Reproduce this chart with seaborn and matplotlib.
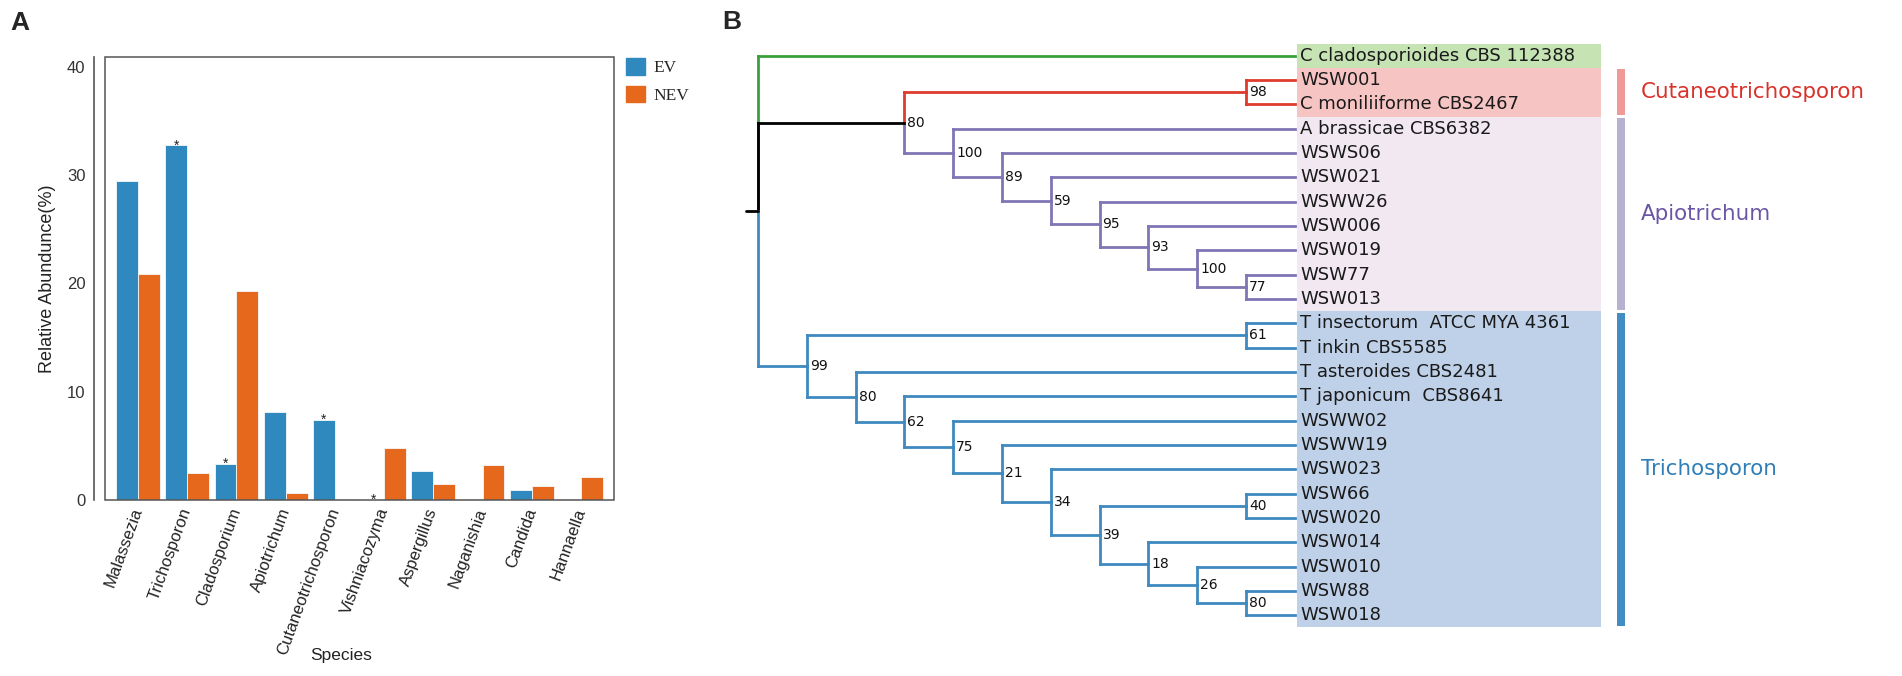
import matplotlib
matplotlib.use("Agg")
import matplotlib.pyplot as plt
import matplotlib.patches as mpatches
import seaborn as sns
import pandas as pd

# ---------------- data: panel A ----------------
species = ["Malassezia", "Trichosporon", "Cladosporium", "Apiotrichum",
           "Cutaneotrichosporon", "Vishniacozyma", "Aspergillus",
           "Naganishia", "Candida", "Hannaella"]
ev_values = [29.45, 32.75, 3.32, 8.12, 7.39, 0.03, 2.68, 0.06, 0.92, 0.12]
nev_values = [20.84, 2.52, 19.3, 0.67, 0.08, 4.83, 1.48, 3.23, 1.29, 2.1]
ev_significant = [False, True, True, False, True, True, False, False, False, False]
groups = ["EV", "NEV"]
y_ticks = [0, 10, 20, 30, 40]

# ---------------- data: panel B ----------------
leaf_names = ["C cladosporioides CBS 112388", "WSW001", "C moniliiforme CBS2467",
              "A brassicae CBS6382", "WSWS06", "WSW021", "WSWW26", "WSW006",
              "WSW019", "WSW77", "WSW013", "T insectorum  ATCC MYA 4361",
              "T inkin CBS5585", "T asteroides CBS2481", "T japonicum  CBS8641",
              "WSWW02", "WSWW19", "WSW023", "WSW66", "WSW020", "WSW014",
              "WSW010", "WSW88", "WSW018"]
clade_names = ["Cladosporium", "Cutaneotrichosporon", "Apiotrichum", "Trichosporon"]
clade_sizes = [1, 2, 8, 13]
clade_labeled = [False, True, True, True]
# tree: (support, depth, children); ints are leaf indices
tree = ("", 0, [0,
    ("80", 3, [("98", 10, [1, 2]),
               ("100", 4, [3, ("89", 5, [4, ("59", 6, [5, ("95", 7, [6,
                    ("93", 8, [7, ("100", 9, [8, ("77", 10, [9, 10])])])])])])])]),
    ("99", 1, [("61", 10, [11, 12]),
               ("80", 2, [13, ("62", 3, [14, ("75", 4, [15, ("21", 5, [16,
                    ("34", 6, [17, ("39", 7, [("40", 10, [18, 19]),
                        ("18", 8, [20, ("26", 9, [21, ("80", 10, [22, 23])])])])])])])])])])])
leaf_depth = 11

# ---------------- styles ----------------
C_EV = "#2F88BE"
C_NEV = "#E6681C"
branch_colors = {"Cladosporium": "#3AA03C", "Cutaneotrichosporon": "#DE3C2C",
                 "Apiotrichum": "#8076B6", "Trichosporon": "#3E8AC0"}
band_colors = {"Cladosporium": "#C6E3B4", "Cutaneotrichosporon": "#F7C4C4",
               "Apiotrichum": "#F1E8F1", "Trichosporon": "#BFD1E9"}
side_colors = {"Cutaneotrichosporon": "#F09A98", "Apiotrichum": "#B7B2D0",
               "Trichosporon": "#418CC3"}
label_colors = {"Cutaneotrichosporon": "#D8322A", "Apiotrichum": "#6B55A5",
                "Trichosporon": "#2F7EB8"}

sns.set_style("white")
plt.rcParams["font.family"] = ["Liberation Sans", "DejaVu Sans"]

W, H = 1902, 676
fig = plt.figure(figsize=(W / 100, H / 100), dpi=100)

# ================= Panel A =================
axA = fig.add_axes([105 / W, 1 - 500 / H, (614 - 105) / W, (500 - 57) / H])
df = pd.DataFrame({
    "Species": species * 2,
    "Abundance": ev_values + nev_values,
    "Group": [groups[0]] * len(species) + [groups[1]] * len(species),
})
sns.barplot(data=df, x="Species", y="Abundance", hue="Group", order=species,
            hue_order=groups, palette=[C_EV, C_NEV], saturation=1, width=0.89,
            edgecolor="#f4f8fb", linewidth=0.6, errorbar=None, ax=axA)
axA.set_xlim(-0.67, len(species) - 1 + 0.67)
axA.set_ylim(0, 40.9)
axA.set_yticks(y_ticks)
for s in ["top", "right", "bottom"]:
    axA.spines[s].set_visible(False)
axA.spines["left"].set_position(("outward", 8))
axA.spines["left"].set_color("#555555")
axA.spines["left"].set_linewidth(1.2)
axA.add_patch(mpatches.Rectangle((0, 0), 1, 1, transform=axA.transAxes, fill=False,
                                 ec="#555555", lw=1.1, clip_on=False, zorder=5))
axA.tick_params(axis="y", length=4, width=1, color="#555555", labelsize=12,
                labelcolor="#333333", pad=2)
axA.tick_params(axis="x", length=0, pad=6, labelsize=12, labelcolor="#222222")
axA.set_xticks(range(len(species)))
axA.set_xticklabels(species, rotation=70, ha="right", va="center",
                    rotation_mode="anchor")
axA.set_ylabel("Relative Abundunce(%)", fontsize=13, color="#222222")
axA.yaxis.set_label_coords(-0.096, 0.5)
axA.set_xlabel("Species", fontsize=12.5, color="#222222")
axA.xaxis.set_label_coords((341 - 105) / 509, -0.335)

for bar, sig in zip(axA.containers[0], ev_significant):
    if sig:
        axA.annotate("*", (bar.get_x() + bar.get_width() / 2, bar.get_height()),
                     xytext=(0, -3), textcoords="offset points", ha="center",
                     va="baseline", fontsize=10, color="#222222")

handles = [mpatches.Patch(color=C_EV), mpatches.Patch(color=C_NEV)]
if axA.get_legend() is not None:
    axA.get_legend().remove()
fig.legend(handles, groups, loc="upper left", bbox_to_anchor=(626 / W, 1 - 58 / H),
           frameon=False, prop={"family": "Liberation Serif", "size": 12.5},
           handlelength=1.1, handleheight=1.1, handletextpad=0.5,
           labelspacing=0.55, borderpad=0, borderaxespad=0)

fig.text(10 / W, 1 - 11 / H, "A", fontsize=19, fontweight="bold", va="top", ha="left")
fig.text(722 / W, 1 - 10 / H, "B", fontsize=19, fontweight="bold", va="top", ha="left")

# ================= Panel B =================
X0, DX = 758.0, 48.8
Y0, DY = 55.7, 24.33
axB = fig.add_axes([740 / W, 0, (W - 740) / W, 1])
axB.set_xlim((740 - X0) / DX, (W - X0) / DX)
axB.set_ylim((H - Y0) / DY, (0 - Y0) / DY)
axB.axis("off")

leaf_clade = []
for name, n in zip(clade_names, clade_sizes):
    leaf_clade += [name] * n

TREE_FONT = ["DejaVu Sans"]


def leaves_of(node):
    if isinstance(node, int):
        return [node]
    out = []
    for c in node[2]:
        out += leaves_of(c)
    return out


def color_of(node):
    cl = {leaf_clade[i] for i in leaves_of(node)}
    return branch_colors[cl.pop()] if len(cl) == 1 else "black"


def draw(node):
    if isinstance(node, int):
        return float(leaf_depth), float(node)
    support, depth, children = node
    pos = [draw(c) for c in children]
    y = (pos[0][1] + pos[-1][1]) / 2
    for c, (cx, cy) in zip(children, pos):
        col = color_of(c)
        axB.plot([depth, depth], [y, cy], color=col, lw=2, solid_capstyle="projecting", zorder=2)
        axB.plot([depth, cx], [cy, cy], color=col, lw=2, solid_capstyle="projecting", zorder=2)
    if support:
        axB.text(depth + 0.06, y, support, fontsize=10, va="center", ha="left",
                 family=TREE_FONT, color="#111111", zorder=4)
    return float(depth), y


root_x, root_y = draw(tree)
axB.plot([root_x - 12 / DX, root_x], [root_y, root_y], color="black", lw=2, zorder=2)

band_x0 = (1297 - X0) / DX
band_x1 = (1601 - X0) / DX
for i, name in enumerate(leaf_names):
    axB.add_patch(mpatches.Rectangle((band_x0, i - 0.5), band_x1 - band_x0, 1,
                                     color=band_colors[leaf_clade[i]], lw=0, zorder=1))
    axB.text((1300 - X0) / DX, i, name, fontsize=13, va="center", ha="left",
             family=TREE_FONT, color="#1a1a1a", zorder=3)

start = 0
for name, n, lab in zip(clade_names, clade_sizes, clade_labeled):
    if lab:
        axB.add_patch(mpatches.Rectangle(((1617 - X0) / DX, start - 0.5 + 0.06), 8 / DX,
                                         n - 0.12, color=side_colors[name], lw=0))
        axB.text((1641 - X0) / DX, start + (n - 1) / 2, name, fontsize=15.4,
                 va="center", ha="left", family=TREE_FONT, color=label_colors[name])
    start += n

fig.savefig("out.png", dpi=100)
